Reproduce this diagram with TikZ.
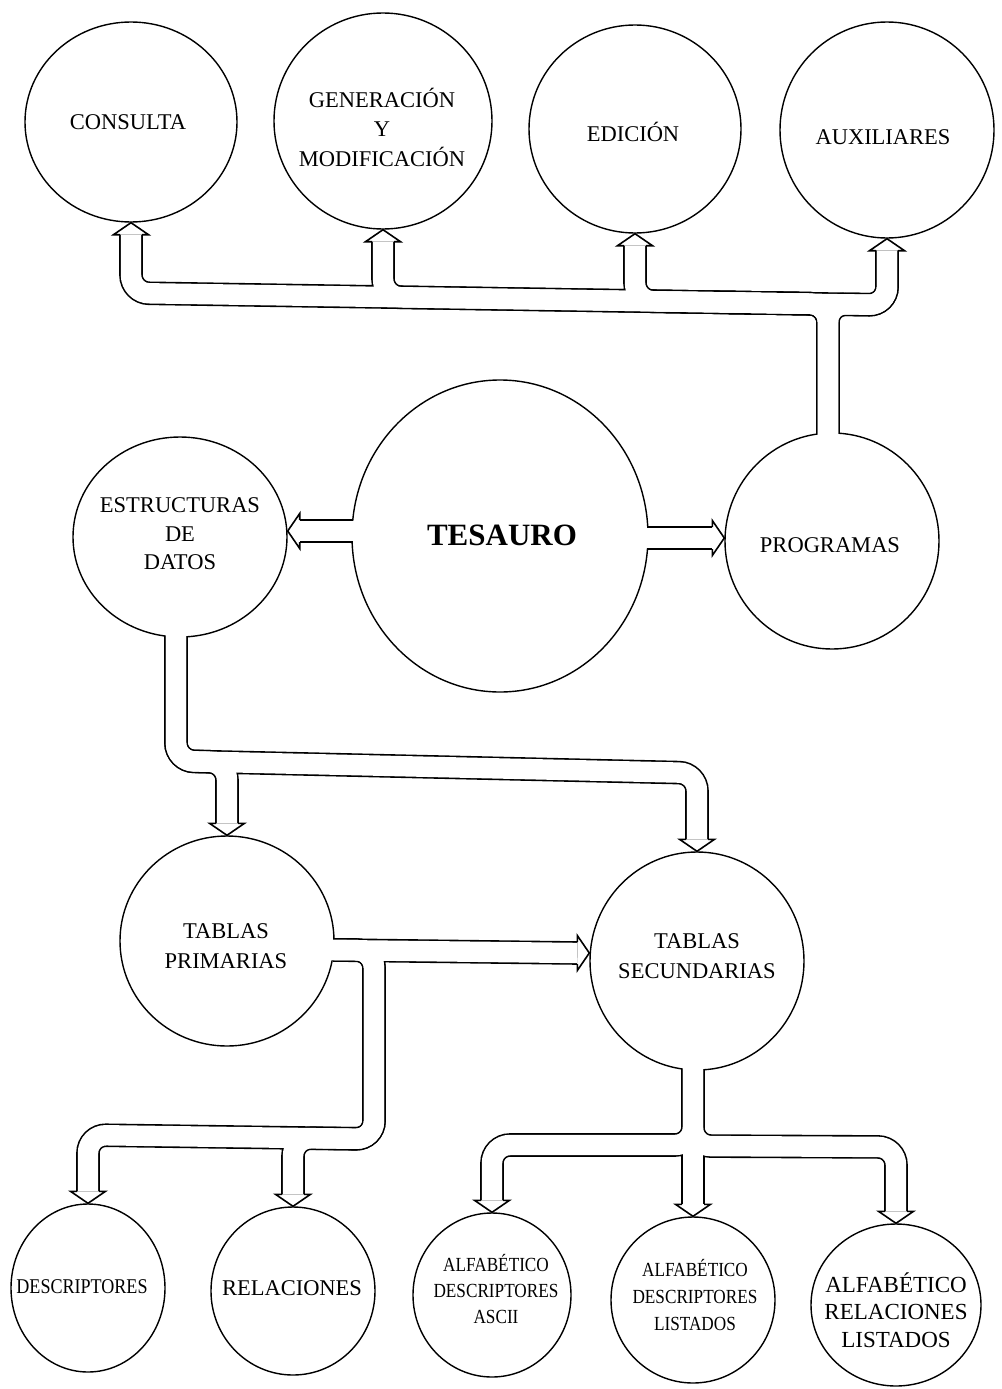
\documentclass[tikz,border=0pt]{standalone}
\usepackage{fontspec}
\setmainfont{Liberation Serif}
\newfontfamily\condfont[FakeStretch=0.86]{Liberation Serif}
\usetikzlibrary{shapes.geometric}
\tikzset{
  bub/.style={draw, ellipse, line width=1.4pt, inner sep=0pt},
  lab/.style={align=center, inner sep=0pt, font=\fontsize{22.5}{29.5}\selectfont},
  shaftout/.style={draw=black, line width=23.6pt, rounded corners=18pt},
  shaftin/.style={draw=white, line width=20.4pt, rounded corners=18pt},
  headln/.style={draw=black, line width=1.6pt, line join=miter},
  hd/.pic={\draw[headln] (-11,-12) -- (-17.5,-12) -- (0,0) -- (17.5,-12) -- (11,-12);},
}
\newcommand\allshafts[2]{%
  % PROGRAMAS -> top row
  \draw[#1] ([shift={(-4pt,-#2)}]prog.north) -- (828,304) -- (131,293) -- ([yshift=-12pt]cons.south);
  \draw[#1] ([shift={(-4pt,-#2)}]prog.north) -- (828,304) -- (383,297) -- ([yshift=-12pt]gen.south);
  \draw[#1] ([shift={(-4pt,-#2)}]prog.north) -- (828,304) -- (635,301) -- ([yshift=-12pt]edi.south);
  \draw[#1] ([shift={(-4pt,-#2)}]prog.north) -- (828,304) -- (887,305) -- ([yshift=-12pt]aux.south);
  \draw[#1] (720,302.3) -- (887,305) -- ([yshift=-12pt]aux.south);
  % TESAURO -> sides
  \draw[#1] ([shift={(#2,5pt)}]tes.west) -- ([shift={(12pt,6pt)}]est.east);
  \draw[#1] ([shift={(-#2,-2pt)}]tes.east) -- ([shift={(-12pt,3pt)}]prog.west);
  % ESTRUCTURAS -> tables
  \draw[#1] ([shift={(-4pt,#2)}]est.south) -- (176,761) -- (227,762) -- ([yshift=12pt]tp.north);
  \draw[#1] ([shift={(-4pt,#2)}]est.south) -- (176,761) -- (697,773) -- ([yshift=12pt]ts.north);
  % TABLAS PRIMARIAS
  \draw[#1] ([shift={(-#2,-9pt)}]tp.east) -- ([shift={(-12pt,8pt)}]ts.west);
  \draw[#1] ([shift={(-#2,-9pt)}]tp.east) -- (374,950) -- (374,1139) -- (88,1135) -- ([yshift=12pt]descr.north);
  \draw[#1] ([shift={(-#2,-9pt)}]tp.east) -- (374,950) -- (374,1139) -- (293,1138) -- ([yshift=12pt]rel.north);
  % TABLAS SECUNDARIAS
  \draw[#1] ([shift={(-4pt,#2)}]ts.south) -- (693,1145) -- (492,1145) -- ([yshift=12pt]alf1.north);
  \draw[#1] ([shift={(-4pt,#2)}]ts.south) -- ([yshift=12pt]alf2.north);
  \draw[#1] ([shift={(-4pt,#2)}]ts.south) -- (693,1146) -- (896,1147) -- ([yshift=12pt]alf3.north);
}
\begin{document}
\begin{tikzpicture}[x=1pt, y=-1pt]
\fill[white] (0,0) rectangle (1001,1389);
\useasboundingbox (0,0) rectangle (1001,1389);
% bubbles
\node[bub, minimum width=212pt, minimum height=200pt] (cons) at (131,122) {};
\node[bub, minimum width=218pt, minimum height=216pt] (gen) at (383,121) {};
\node[bub, minimum width=212pt, minimum height=208pt] (edi) at (635,129) {};
\node[bub, minimum width=214pt, minimum height=216pt] (aux) at (887,130) {};
\node[bub, minimum width=296pt, minimum height=312pt] (tes) at (500,536) {};
\node[bub, minimum width=214pt, minimum height=200pt] (est) at (180,537) {};
\node[bub, minimum width=214pt, minimum height=216pt] (prog) at (832,541) {};
\node[bub, minimum width=214pt, minimum height=210pt] (tp) at (227,941) {};
\node[bub, minimum width=214pt, minimum height=218pt] (ts) at (697,961) {};
\node[bub, minimum width=154pt, minimum height=168pt] (descr) at (88,1288) {};
\node[bub, minimum width=164pt, minimum height=168pt] (rel) at (293,1291) {};
\node[bub, minimum width=158pt, minimum height=164pt] (alf1) at (492,1295) {};
\node[bub, minimum width=164pt, minimum height=166pt] (alf2) at (693,1300) {};
\node[bub, minimum width=170pt, minimum height=162pt] (alf3) at (896,1305) {};
% hollow connectors
\allshafts{shaftout}{1.5pt}
\allshafts{shaftin}{3.5pt}
% arrow heads
\pic[rotate=180] at (cons.south) {hd};
\pic[rotate=180] at (gen.south) {hd};
\pic[rotate=180] at (edi.south) {hd};
\pic[rotate=180] at (aux.south) {hd};
\pic[rotate=-90] at ([yshift=6pt]est.east) {hd};
\pic[rotate=90] at ([yshift=3pt]prog.west) {hd};
\pic at (tp.north) {hd};
\pic at (ts.north) {hd};
\pic[rotate=90] at ([yshift=8pt]ts.west) {hd};
\pic at (descr.north) {hd};
\pic at (rel.north) {hd};
\pic at (alf1.north) {hd};
\pic at (alf2.north) {hd};
\pic at (alf3.north) {hd};
% labels
\node[lab] (consT) at (128,122) {CONSULTA};
\node[lab] (genT) at (382,127) {GENERACIÓN\\Y\\MODIFICACIÓN};
\node[lab] (ediT) at (633,132) {EDICIÓN};
\node[lab] (auxT) at (883,137) {AUXILIARES};
\node[lab, font=\bfseries\fontsize{31}{36}\selectfont] (tesT) at (502,535) {TESAURO};
\node[lab, font=\fontsize{22.5}{28.5}\selectfont] (estT) at (180,534) {ESTRUCTURAS\\DE\\DATOS};
\node[lab] (progT) at (830,545) {PROGRAMAS};
\node[lab] (tpT) at (226,946) {TABLAS\\PRIMARIAS};
\node[lab] (tsT) at (697,956) {TABLAS\\SECUNDARIAS};
\node[lab, font=\condfont\fontsize{21}{26}\selectfont] (descrT) at (82,1287) {DESCRIPTORES};
\node[lab] (relT) at (292,1288) {RELACIONES};
\node[lab, font=\condfont\fontsize{20}{26}\selectfont] (alf1T) at (496,1289) {ALFABÉTICO\\DESCRIPTORES\\ASCII};
\node[lab, font=\condfont\fontsize{20}{27}\selectfont] (alf2T) at (695,1295) {ALFABÉTICO\\DESCRIPTORES\\LISTADOS};
\node[lab, font=\fontsize{23}{27.5}\selectfont] (alf3T) at (896,1310) {ALFABÉTICO\\RELACIONES\\LISTADOS};
\end{tikzpicture}
\end{document}
